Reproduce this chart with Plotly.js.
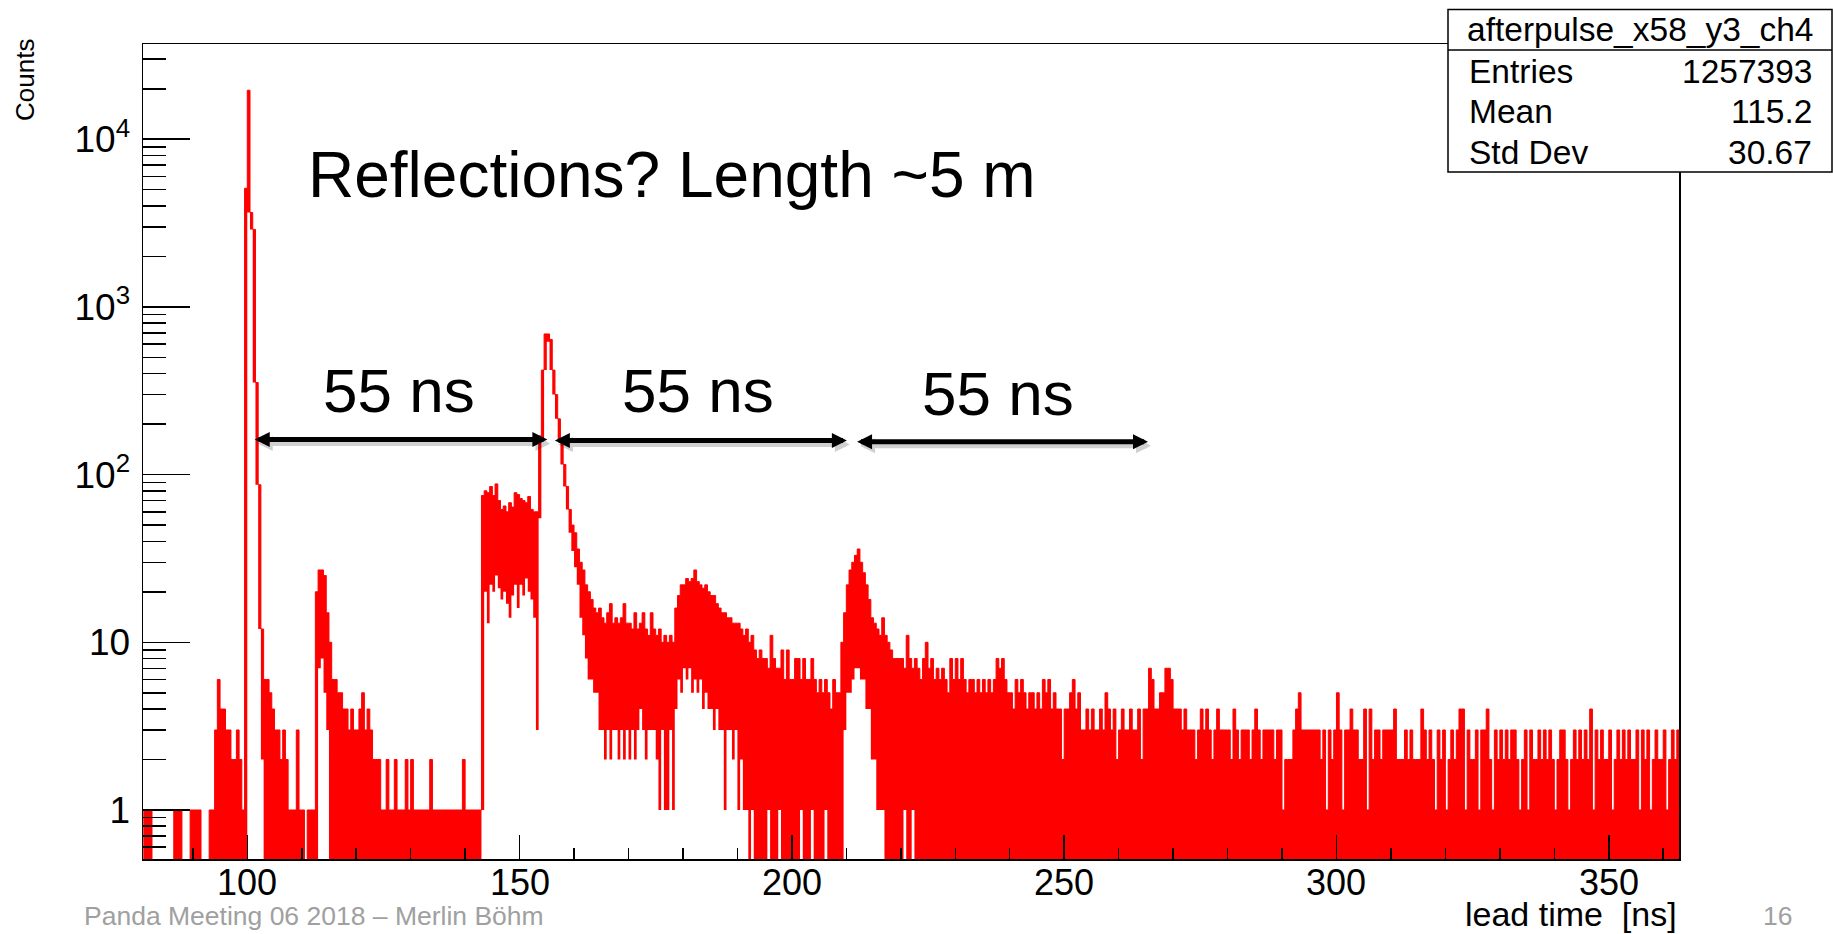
<!DOCTYPE html>
<html><head><meta charset="utf-8">
<script src="https://cdn.plot.ly/plotly-3.0.1.min.js"></script>
<style>html,body{margin:0;padding:0;background:#fff;overflow:hidden}#chart{width:1833px;height:934px}</style>
</head><body><div id="chart"></div>
<script>
// ---- histogram data: lead time [ns], 0.5 ns columns starting at 80 ns ----
const binStart = 80.0;
const binWidth = 0.5;
// highest count reached inside each 0.5 ns column
const countsHigh = [
  0,0,1,1,1,0,0,0,0,0,            // 80
  0,0,0,1,1,1,0,0,0,1,            // 85
  1,1,1,0,0,0,1,1,3,6,            // 90
  4,4,3,3,2,2,3,2,1,5100,         // 95
  19600,3660,2900,354,87,12,6,6,5,4, // 100
  3,3,2,3,2,1,1,1,3,1,            // 105
  1,0,1,1,1,20,27,27,25,15,       // 110
  10,6,6,5,5,4,4,3,4,3,           // 115
  3,4,5,3,4,3,2,2,2,1,            // 120
  1,2,1,1,2,1,1,1,2,1,            // 125
  2,1,1,1,1,1,1,2,1,1,            // 130
  1,1,1,1,1,1,1,1,1,2,            // 135
  1,1,1,1,1,1,75,80,78,85,        // 140
  75,88,70,62,65,60,68,64,78,76,  // 145
  72,70,68,74,62,60,60,170,420,690, // 150
  690,640,420,300,215,160,115,85,62,50, // 155
  45,36,30,27,22,20,18,16,15,16,  // 160
  14,13,15,17,13,14,13,14,17,13,  // 165
  13,12,15,12,13,15,12,11,15,12,  // 170
  11,12,10,11,10,11,10,16,19,22,  // 175
  22,24,23,24,27,23,22,21,22,20,  // 180
  19,19,17,16,15,15,14,14,13,13,  // 185
  13,12,11,12,10,11,9,8,9,8,      // 190
  8,7,11,8,7,7,9,6,9,6,           // 195
  6,8,8,6,8,6,6,8,6,5,            // 200
  6,5,6,5,4,6,5,5,10,15,          // 205
  22,27,30,33,36,30,26,22,18,14,  // 210
  13,12,11,14,11,10,9,8,8,8,      // 215
  8,7,11,8,7,8,7,6,8,10,          // 220
  7,8,6,7,6,7,6,5,8,6,            // 225
  8,6,8,6,5,6,6,5,6,5,            // 230
  6,5,6,5,6,8,7,8,6,5,            // 235
  5,4,6,5,6,5,4,5,5,4,            // 240
  5,4,6,5,6,4,5,4,4,2,            // 245
  4,4,5,6,4,5,3,3,4,3,            // 250
  4,3,3,4,3,5,4,3,4,2,            // 255
  3,4,3,3,4,3,3,4,2,4,            // 260
  4,7,6,4,4,5,5,7,7,6,            // 265
  4,4,4,3,4,3,3,3,2,3,            // 270
  4,3,4,3,2,3,4,3,3,3,            // 275
  3,2,4,3,2,3,3,3,2,3,            // 280
  4,3,2,3,3,3,3,2,3,3,            // 285
  1,2,2,2,3,4,5,3,3,3,            // 290
  3,3,3,3,2,3,1,3,2,3,            // 295
  5,3,1,3,3,4,3,3,2,2,            // 300
  4,1,4,2,3,3,2,3,3,3,            // 305
  3,4,2,2,2,3,2,3,2,2,            // 310
  2,4,3,2,3,2,1,3,2,3,            // 315
  1,2,3,2,3,4,4,1,3,2,            // 320
  2,3,1,3,3,4,2,1,3,2,            // 325
  3,2,3,2,3,3,2,1,2,3,            // 330
  1,3,2,2,3,2,3,2,3,2,            // 335
  1,2,3,3,2,1,2,3,2,3,            // 340
  2,3,2,4,1,3,2,3,2,2,            // 345
  3,1,2,3,2,3,2,3,2,2,            // 350
  3,1,3,2,3,1,2,3,2,2,            // 355
  3,1,2,3,2,3                     // 360
];
// lowest count reached inside each 0.5 ns column (0 = empty bins present)
const countsLow = [
  0,0,0,0,0,0,0,0,0,0,            // 80
  0,0,0,0,0,0,0,0,0,0,            // 85
  0,0,0,0,0,0,0,0,0,0,            // 90
  0,0,0,0,0,0,0,0,0,0,            // 95
  3660,2900,354,87,12,2,0,0,0,0,  // 100
  0,0,0,0,0,0,0,0,0,0,            // 105
  0,0,0,0,0,0,7,8,5,3,            // 110
  0,0,0,0,0,0,0,0,0,0,            // 115
  0,0,0,0,0,0,0,0,0,0,            // 120
  0,0,0,0,0,0,0,0,0,0,            // 125
  0,0,0,0,0,0,0,0,0,0,            // 130
  0,0,0,0,0,0,0,0,0,0,            // 135
  0,0,0,0,0,0,1,20,13,22,         // 140
  20,25,21,18,20,17,14,19,22,16,  // 145
  22,19,24,20,18,14,3,55,160,420, // 150
  620,420,300,215,160,115,85,62,45,35, // 155
  28,22,14,11,8,6,6,5,5,3,        // 160
  3,2,3,2,3,3,2,3,2,3,            // 165
  2,3,2,3,4,3,2,3,3,3,            // 170
  2,1,3,1,1,3,1,4,6,5,            // 175
  7,6,7,5,6,5,6,4,5,4,            // 180
  4,3,4,3,3,1,3,3,2,3,            // 185
  1,2,1,1,0,1,0,0,0,0,            // 190
  0,1,0,0,0,1,0,0,0,0,            // 195
  0,0,0,1,0,0,0,1,0,0,            // 200
  0,0,1,0,0,0,0,0,0,3,            // 205
  5,5,6,7,7,6,6,4,4,2,            // 210
  2,1,1,1,0,0,0,0,0,0,            // 215
  0,1,0,0,1,0,0,0,0,0,            // 220
  0,0,0,0,0,0,0,0,0,0,            // 225
  0,0,0,0,0,0,0,0,0,0,            // 230
  0,0,0,0,0,0,0,0,0,0,            // 235
  0,0,0,0,0,0,0,0,0,0,            // 240
  0,0,0,0,0,0,0,0,0,0,            // 245
  0,0,0,0,0,0,0,0,0,0,            // 250
  0,0,0,0,0,0,0,0,0,0,            // 255
  0,0,0,0,0,0,0,0,0,0,            // 260
  0,0,0,0,0,0,0,0,0,0,            // 265
  0,0,0,0,0,0,0,0,0,0,            // 270
  0,0,0,0,0,0,0,0,0,0,            // 275
  0,0,0,0,0,0,0,0,0,0,            // 280
  0,0,0,0,0,0,0,0,0,0,            // 285
  0,0,0,0,0,0,0,0,0,0,            // 290
  0,0,0,0,0,0,0,0,0,0,            // 295
  0,0,0,0,0,0,0,0,0,0,            // 300
  0,0,0,0,0,0,0,0,0,0,            // 305
  0,0,0,0,0,0,0,0,0,0,            // 310
  0,0,0,0,0,0,0,0,0,0,            // 315
  0,0,0,0,0,0,0,0,0,0,            // 320
  0,0,0,0,0,0,0,0,0,0,            // 325
  0,0,0,0,0,0,0,0,0,0,            // 330
  0,0,0,0,0,0,0,0,0,0,            // 335
  0,0,0,0,0,0,0,0,0,0,            // 340
  0,0,0,0,0,0,0,0,0,0,            // 345
  0,0,0,0,0,0,0,0,0,0,            // 350
  0,0,0,0,0,0,0,0,0,0,            // 355
  0,0,0,0,0,0                     // 360
];

// ---- axis / label data ----
const xRange = [80.85, 362.9];
const yRangeLog = [-0.2924, 4.568];
const xTickVals = [100, 150, 200, 250, 300, 350];
const yTickVals = [1, 10, 100, 1000, 10000];
const yTickText = ['1', '10', '10<sup>2</sup>', '10<sup>3</sup>', '10<sup>4</sup>'];
const yMinorDigits = [2, 3, 4, 5, 6, 7, 8, 9];
const statTitle = 'afterpulse_x58_y3_ch4';
const statNames = ['Entries', 'Mean', 'Std Dev'];
const statValues = ['1257393', '115.2', '30.67'];
const gapLabel = '55 ns';
const gapArrows = [[101.1, 155.1], [156.2, 210.1], [211.7, 265.4]]; // ns
const gapLabelX = [127.8, 182.8, 237.8]; // ns

// ---- page geometry ----
const W = 1833, H = 934;
const M = {l: 143, r: 154, t: 44, b: 75};
const PW = W - M.l - M.r, PH = H - M.t - M.b;
const PX = p => (p - M.l) / PW;
const PY = p => (H - M.b - p) / PH;
const XD = ns => M.l + (ns - xRange[0]) / (xRange[1] - xRange[0]) * PW; // ns -> page px

const FLOOR = 0.3;
const edges = countsHigh.map((_, i) => binStart + i * binWidth);
edges.push(binStart + countsHigh.length * binWidth);
const lo = countsLow.map((v, i) => (v > 0 && countsHigh[i] > 0) ? v : FLOOR);
lo.push(lo[lo.length - 1]);
const hi = countsHigh.map(v => v > 0 ? v : FLOOR);
hi.push(hi[hi.length - 1]);

const minorVals = [];
for (let e = -1; e <= 4; e++) for (const d of yMinorDigits) minorVals.push(d * Math.pow(10, e));

const RED = '#ff0000';
const traces = [
  {x: edges, y: lo, type: 'scatter', mode: 'lines', line: {shape: 'hv', width: 0, color: RED}, hoverinfo: 'skip', showlegend: false},
  {x: edges, y: hi, type: 'scatter', mode: 'lines', line: {shape: 'hv', width: 1, color: RED}, fill: 'tonexty', fillcolor: RED, hoverinfo: 'skip', showlegend: false}
];

const axFont = "'Liberation Sans', Arial, sans-serif";
const slideFont = "'Liberation Sans', Arial, sans-serif";

const ann = [];
ann.push({xref: 'paper', yref: 'paper', x: PX(306), y: PY(175), xanchor: 'left', yanchor: 'middle', showarrow: false,
  text: 'Reflections? Length ~5 m', font: {family: slideFont, size: 64, color: '#000'}});
const labelY = [390.5, 390.5, 393.5];
gapLabelX.forEach((ns, i) => ann.push({xref: 'paper', yref: 'paper', x: PX(XD(ns)), y: PY(labelY[i]), xanchor: 'center', yanchor: 'middle',
  showarrow: false, text: gapLabel, font: {family: slideFont, size: 62, color: '#000'}}));
const arrowY = [439.5, 440.5, 441.7];
gapArrows.forEach((a, i) => {
  const x0 = XD(a[0]), x1 = XD(a[1]);
  [[3, 4, 'rgba(0,0,0,0.18)'], [0, 0, '#000']].forEach(s => ann.push({xref: 'paper', yref: 'paper', x: PX(x1 + s[0]), y: PY(arrowY[i] + s[1]),
    ax: x0 - x1, ay: 0, text: '', showarrow: true, arrowside: 'end+start', arrowhead: 2, startarrowhead: 2,
    arrowsize: 0.6, startarrowsize: 0.6, arrowwidth: 5, arrowcolor: s[2], standoff: 0, startstandoff: 0}));
});
// x tick labels
xTickVals.forEach(v => ann.push({xref: 'x', yref: 'paper', x: v, y: PY(882), xanchor: 'center', yanchor: 'middle', showarrow: false,
  text: String(v), font: {family: axFont, size: 36, color: '#000'}}));
ann.push({xref: 'paper', yref: 'paper', x: PX(25), y: PY(80), xanchor: 'center', yanchor: 'middle', textangle: -90, showarrow: false,
  text: 'Counts', font: {family: axFont, size: 26, color: '#000'}});
ann.push({xref: 'paper', yref: 'paper', x: PX(1679), y: PY(914), xanchor: 'right', yanchor: 'middle', showarrow: false,
  text: 'lead time  [ns]', font: {family: axFont, size: 34, color: '#000'}});
// stats box text
ann.push({xref: 'paper', yref: 'paper', x: PX(1640), y: PY(29), xanchor: 'center', yanchor: 'middle', showarrow: false,
  text: statTitle, font: {family: slideFont, size: 33.5, color: '#000'}});
const rowY = [71, 112, 152];
statNames.forEach((n, i) => {
  ann.push({xref: 'paper', yref: 'paper', x: PX(1467), y: PY(rowY[i]), xanchor: 'left', yanchor: 'middle', showarrow: false,
    text: n, font: {family: slideFont, size: 33.5, color: '#000'}});
  ann.push({xref: 'paper', yref: 'paper', x: PX(1814), y: PY(rowY[i]), xanchor: 'right', yanchor: 'middle', showarrow: false,
    text: statValues[i], font: {family: slideFont, size: 33.5, color: '#000'}});
});
// slide footer
ann.push({xref: 'paper', yref: 'paper', x: PX(82), y: PY(916), xanchor: 'left', yanchor: 'middle', showarrow: false,
  text: 'Panda Meeting 06 2018 – Merlin Böhm', font: {family: slideFont, size: 26.5, color: '#a0a0a0'}});
ann.push({xref: 'paper', yref: 'paper', x: PX(1777), y: PY(916), xanchor: 'center', yanchor: 'middle', showarrow: false,
  text: '16', font: {family: slideFont, size: 26.5, color: '#a0a0a0'}});

const shapes = [
  {type: 'rect', xref: 'paper', yref: 'paper', x0: PX(1448), x1: PX(1832), y0: PY(172), y1: PY(9.5),
   line: {color: '#000', width: 1.5}, fillcolor: '#fff', layer: 'above'},
  {type: 'line', xref: 'paper', yref: 'paper', x0: PX(1448), x1: PX(1832), y0: PY(50), y1: PY(50),
   line: {color: '#000', width: 1.5}, layer: 'above'}
];

const layout = {
  width: W, height: H, margin: M, paper_bgcolor: '#fff', plot_bgcolor: '#fff', showlegend: false,
  xaxis: {range: xRange, showline: true, mirror: true, linecolor: '#000', linewidth: 1.5, showgrid: false, zeroline: false,
    ticks: 'inside', ticklen: 24, tickwidth: 1.5, tickcolor: '#000', tick0: 0, dtick: 50, showticklabels: false,
    minor: {ticks: 'inside', ticklen: 11, tickwidth: 1.5, tickcolor: '#000', tick0: 0, dtick: 10, showgrid: false}},
  yaxis: {type: 'log', range: yRangeLog, showline: true, mirror: true, linecolor: '#000', linewidth: 1.5, showgrid: false, zeroline: false,
    ticks: 'inside', ticklen: 47, tickwidth: 1.5, tickcolor: '#000', tickmode: 'array', tickvals: yTickVals, ticktext: yTickText,
    ticklabelstandoff: 4, tickfont: {family: axFont, size: 37, color: '#000'},
    minor: {ticks: 'inside', ticklen: 23, tickwidth: 1.5, tickcolor: '#000', tickmode: 'array', tickvals: minorVals, showgrid: false}},
  annotations: ann, shapes: shapes
};
Plotly.newPlot('chart', traces, layout, {staticPlot: true, displayModeBar: false});
</script></body></html>
